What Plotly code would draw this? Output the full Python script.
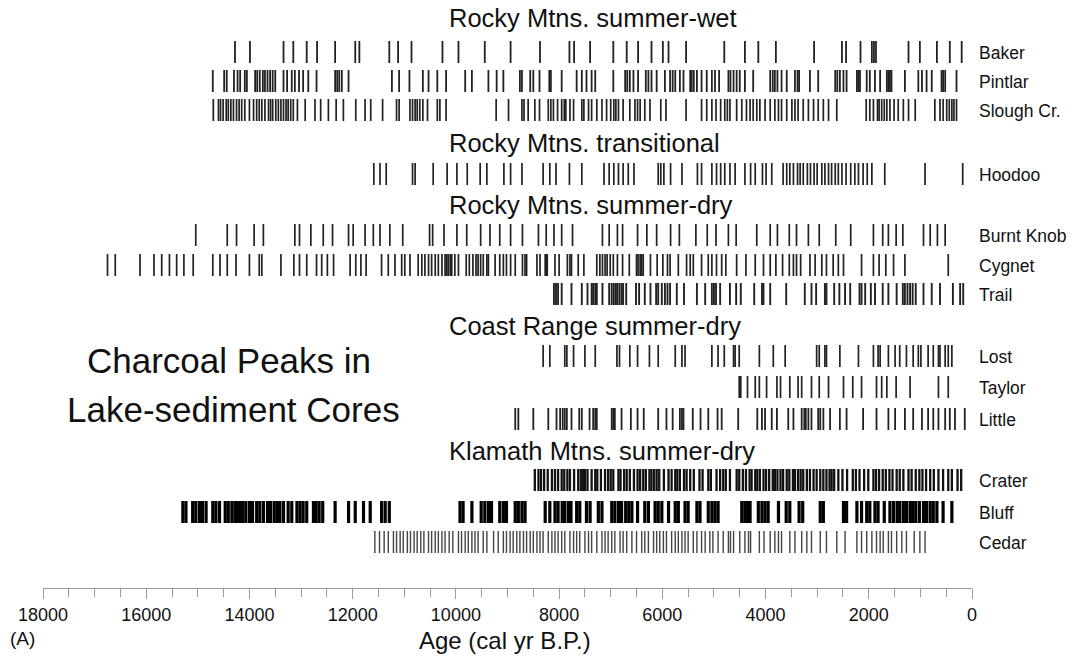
import plotly.graph_objects as go

# ---- charcoal peak ages (cal yr B.P.) for each lake ----
baker = [14280, 13990, 13340, 13150, 12890, 12690, 12340, 11950, 11870, 11290, 11120, 10860, 10260, 9950,
         9440, 8940, 8370, 7800, 7710, 7400, 6950, 6690, 6470, 6210, 5990, 5880, 5540, 4800, 4400, 4140,
         3800, 3060, 2520, 2440, 2160, 1940, 1900, 1860, 1230, 1010, 680, 430, 200]

pintlar = [14710, 14490, 14440, 14300, 14230, 14180, 14090, 14050, 13890, 13850, 13800, 13740, 13700, 13650,
           13600, 13550, 13500, 13340, 13270, 13180, 13120, 13040, 12960, 12860, 12700, 12340, 12300, 12260,
           12210, 12080, 11240, 11100, 10900, 10640, 10530, 10360, 10190, 9820, 9690, 9370, 9210, 9080, 8760,
           8720, 8560, 8500, 8380, 8190, 8160, 7950, 7660, 7560, 7470, 7370, 7300, 6950, 6720, 6680, 6630,
           6560, 6470, 6320, 6270, 6210, 6110, 5950, 5850, 5800, 5750, 5660, 5590, 5460, 5430, 5390, 5330,
           5240, 5140, 5040, 4980, 4900, 4720, 4680, 4620, 4560, 4500, 4400, 4240, 3910, 3860, 3820, 3770,
           3690, 3590, 3430, 3380, 3350, 3140, 2980, 2650, 2610, 2560, 2490, 2430, 2230, 2200, 2170, 2040,
           1980, 1880, 1780, 1650, 1620, 1590, 1560, 1300, 1040, 970, 880, 780, 590, 560, 520, 300]

slough = [14700, 14600, 14560, 14510, 14450, 14410, 14360, 14310, 14250, 14200, 14150, 14090, 14000, 13920,
          13860, 13810, 13760, 13700, 13630, 13590, 13550, 13490, 13440, 13390, 13340, 13290, 13250, 13200,
          13150, 13070, 12920, 12730, 12620, 12470, 12320, 12180, 11940, 11760, 11650, 11420, 11150, 11100,
          10890, 10840, 10790, 10750, 10700, 10640, 10550, 10360, 10310, 10190, 9220, 8980, 8720, 8680, 8600,
          8470, 8380, 8210, 8160, 8110, 8030, 7950, 7900, 7870, 7790, 7720, 7560, 7520, 7430, 7370, 7270,
          7170, 7080, 7000, 6940, 6900, 6850, 6760, 6630, 6530, 6480, 6430, 6340, 6240, 6030, 5930, 5540,
          5240, 5140, 5040, 4960, 4870, 4790, 4740, 4690, 4560, 4460, 4370, 4300, 4240, 4170, 4110, 4010,
          3910, 3820, 3750, 3690, 3590, 3490, 3430, 3370, 3270, 3170, 3070, 2980, 2880, 2780, 2620, 2050,
          1980, 1910, 1830, 1800, 1750, 1700, 1650, 1590, 1510, 1430, 1330, 1230, 1100, 720, 620, 560, 490,
          440, 390, 350, 300]

hoodoo = [11590, 11470, 11350, 10840, 10790, 10440, 10170, 9980, 9780, 9530, 9400, 9070, 8940, 8720, 8310,
          8180, 8060, 7800, 7560, 7130, 7030, 6940, 6850, 6760, 6660, 6550, 6080, 6030, 5970, 5840, 5620,
          5320, 5240, 5040, 4950, 4870, 4790, 4690, 4590, 4400, 4290, 4200, 4060, 3990, 3880, 3660, 3590,
          3530, 3460, 3380, 3330, 3270, 3190, 3130, 3060, 3000, 2910, 2850, 2780, 2720, 2650, 2590, 2520,
          2440, 2350, 2270, 2200, 2110, 2030, 1940, 1690, 910, 180]

burnt_knob = [15040, 14430, 14250, 13910, 13730, 13120, 13030, 12810, 12570, 12390, 12080, 11990, 11760, 11600,
              11470, 11280, 11030, 10510, 10450, 10230, 9980, 9790, 9520, 9340, 9150, 8940, 8710, 8400, 8250,
              8100, 7950, 7740, 7160, 7030, 6870, 6770, 6480, 6300, 6110, 5840, 5670, 5350, 5130, 4960, 4720,
              4570, 4170, 3910, 3770, 3540, 3400, 3170, 2960, 2640, 2350, 1910, 1730, 1620, 1470, 1340, 940,
              810, 670, 520]

cygnet = [16750, 16600, 16120, 15850, 15700, 15550, 15410, 15270, 15090, 14710, 14570, 14430, 14260, 14000,
          13810, 13760, 13390, 13140, 13030, 12890, 12700, 12600, 12490, 12370, 12050, 11940, 11840, 11740,
          11440, 11310, 11180, 11050, 10990, 10890, 10730, 10660, 10600, 10530, 10470, 10400, 10340, 10270,
          10210, 10180, 10150, 10110, 10080, 10020, 9950, 9800, 9740, 9670, 9610, 9570, 9520, 9470, 9400,
          9370, 9240, 9150, 9080, 9020, 8940, 8850, 8710, 8660, 8630, 8430, 8370, 8270, 8250, 8230, 8080,
          8000, 7840, 7790, 7760, 7630, 7520, 7270, 7210, 7160, 7110, 7070, 7010, 6950, 6870, 6770, 6640,
          6500, 6470, 6430, 6400, 6370, 6230, 6100, 5990, 5900, 5850, 5690, 5530, 5460, 5400, 5240, 5110,
          5040, 4950, 4850, 4770, 4560, 4380, 4200, 4040, 3910, 3800, 3670, 3540, 3460, 3400, 3320, 3140,
          3040, 2910, 2820, 2690, 2590, 2490, 2140, 1910, 1800, 1670, 1520, 1300, 460]

trail = [8100, 8060, 8020, 7950, 7760, 7560, 7450, 7370, 7340, 7300, 7270, 7160, 7030, 6980, 6940, 6900,
         6870, 6830, 6790, 6760, 6700, 6510, 6450, 6340, 6230, 6120, 6080, 6010, 5950, 5900, 5850, 5720,
         5580, 5330, 5170, 5040, 5000, 4960, 4880, 4690, 4570, 4480, 4220, 4070, 4040, 3910, 3600, 3240,
         3110, 3020, 2850, 2820, 2670, 2570, 2460, 2360, 2180, 2140, 2070, 1960, 1880, 1730, 1620, 1460,
         1340, 1300, 1250, 1200, 1150, 1090, 940, 780, 620, 370, 230, 170]

lost = [8310, 8180, 7890, 7850, 7720, 7500, 7300, 6880, 6830, 6630, 6480, 6250, 6080, 5750, 5620, 5560,
        5040, 4920, 4800, 4620, 4590, 4510, 4120, 3850, 3620, 3010, 2960, 2850, 2820, 2560, 2200, 1910,
        1820, 1780, 1620, 1490, 1400, 1270, 1140, 1040, 990, 850, 750, 650, 620, 520, 460, 390]

taylor = [4510, 4480, 4350, 4200, 4120, 3980, 3780, 3710, 3530, 3370, 3300, 3110, 2960, 2780, 2490, 2310,
          2140, 1850, 1750, 1650, 1470, 1200, 650, 460]

little = [8850, 8790, 8500, 8210, 8050, 7980, 7930, 7890, 7850, 7760, 7610, 7560, 7410, 7340, 7300, 7270,
          6980, 6950, 6920, 6790, 6610, 6480, 6360, 6080, 5920, 5800, 5660, 5620, 5590, 5410, 5260, 5110,
          4930, 4850, 4530, 4160, 4070, 4010, 3880, 3780, 3560, 3460, 3300, 3250, 3220, 3170, 3110, 2980,
          2940, 2880, 2750, 2560, 2430, 2110, 1850, 1620, 1490, 1300, 1140, 970, 850, 750, 650, 520, 430,
          330, 140]

crater = [8470, 8400, 8350, 8290, 8220, 8140, 8080, 8020, 7950, 7900, 7840, 7790, 7710, 7630, 7580, 7540,
          7500, 7450, 7370, 7300, 7260, 7190, 7110, 7050, 7000, 6950, 6850, 6810, 6740, 6690, 6630, 6550,
          6480, 6430, 6370, 6320, 6250, 6210, 6160, 6110, 6060, 5970, 5880, 5820, 5750, 5710, 5660, 5580,
          5530, 5460, 5390, 5280, 5220, 5110, 5060, 4950, 4880, 4820, 4770, 4690, 4560, 4510, 4440, 4380,
          4310, 4270, 4200, 4160, 4110, 4040, 3990, 3930, 3860, 3820, 3770, 3710, 3660, 3590, 3540, 3470,
          3430, 3370, 3320, 3270, 3200, 3140, 3070, 3010, 2940, 2880, 2820, 2760, 2720, 2670, 2590, 2510,
          2420, 2310, 2250, 2180, 2090, 2010, 1910, 1860, 1800, 1730, 1670, 1600, 1540, 1460, 1400, 1330,
          1230, 1170, 1090, 1020, 960, 890, 810, 740, 650, 560, 460, 390, 280, 210]

bluff = [15290, 15230, 15100, 15040, 14970, 14910, 14840, 14710, 14650, 14580, 14470, 14410, 14340, 14280,
         14230, 14180, 14130, 14070, 14000, 13940, 13860, 13800, 13730, 13650, 13590, 13520, 13460, 13410,
         13340, 13250, 13180, 13080, 13020, 12960, 12890, 12760, 12710, 12650, 12580, 12340, 12080, 11950,
         11790, 11660, 11440, 11370, 11290, 9920, 9860, 9690, 9510, 9440, 9370, 9310, 9150, 9080, 9020,
         8850, 8790, 8720, 8660, 8270, 8180, 8080, 8020, 7940, 7890, 7820, 7770, 7660, 7600, 7470, 7400,
         7240, 7170, 6980, 6920, 6850, 6790, 6710, 6650, 6590, 6480, 6340, 6270, 6140, 6080, 6010, 5880,
         5750, 5690, 5560, 5500, 5330, 5270, 5110, 5040, 4980, 4920, 4460, 4400, 4350, 4300, 4140, 4070,
         4010, 3950, 3750, 3600, 3530, 3350, 3280, 2940, 2880, 2490, 2430, 2230, 2140, 2040, 1980, 1880,
         1820, 1700, 1590, 1520, 1450, 1400, 1330, 1270, 1200, 1150, 1090, 1020, 940, 880, 810, 750, 680,
         560, 390]

cedar = [11570, 11480, 11390, 11310, 11210, 11150, 11080, 11020, 10940, 10880, 10810, 10750, 10680, 10620,
         10530, 10470, 10400, 10340, 10270, 10210, 10130, 10060, 9950, 9890, 9820, 9760, 9690, 9630, 9570,
         9470, 9400, 9270, 9180, 9080, 9020, 8950, 8890, 8820, 8760, 8690, 8630, 8560, 8500, 8430, 8370,
         8310, 8210, 8140, 8080, 8020, 7950, 7890, 7790, 7720, 7660, 7600, 7500, 7430, 7370, 7270, 7170,
         7110, 7050, 6980, 6920, 6820, 6760, 6690, 6590, 6500, 6400, 6340, 6270, 6170, 6110, 6050, 5980,
         5920, 5820, 5750, 5690, 5620, 5560, 5500, 5400, 5330, 5240, 5170, 5080, 5020, 4920, 4820, 4720,
         4680, 4620, 4500, 4400, 4330, 4290, 4120, 4030, 3910, 3820, 3750, 3690, 3530, 3430, 3300, 3200,
         3110, 2940, 2820, 2620, 2460, 2230, 2140, 2040, 1940, 1850, 1780, 1720, 1620, 1560, 1460, 1360,
         1270, 1120, 1010, 910]

site_names = ["Baker", "Pintlar", "Slough Cr.", "Hoodoo", "Burnt Knob", "Cygnet", "Trail",
              "Lost", "Taylor", "Little", "Crater", "Bluff", "Cedar"]
site_ages = [baker, pintlar, slough, hoodoo, burnt_knob, cygnet, trail,
             lost, taylor, little, crater, bluff, cedar]

group_titles = ["Rocky Mtns. summer-wet", "Rocky Mtns. transitional", "Rocky Mtns. summer-dry",
                "Coast Range summer-dry", "Klamath Mtns. summer-dry"]

age_ticks = list(range(0, 18001, 2000))

# ---- layout (canvas pixels: the y axis runs 0 at top to H at bottom) ----
W, H = 1089, 658
PLOT_L, PLOT_R = 43, 972          # pixel span of the age axis
AXIS_Y = 588                      # pixel row of the age axis line
row_y = [52, 81, 110, 174, 235, 265, 294, 356, 387, 419, 480, 512, 542]
row_width = [1.8, 1.8, 1.7, 1.7, 1.7, 1.7, 1.9, 1.7, 1.7, 1.8, 2.3, 3.2, 1.4]
row_color = ["#222222"] * 10 + ["#111111", "#000000", "#444444"]
HALF = 11                         # half height of a peak mark
group_y = [18, 143, 205, 326, 451]
GROUP_X = 447

FONT = "Liberation Sans, Arial, Helvetica, sans-serif"


def px_to_paper(px):
    return (px - PLOT_L) / (PLOT_R - PLOT_L)


fig = go.Figure()

for name, ages, yc, lw, col in zip(site_names, site_ages, row_y, row_width, row_color):
    xs, ys = [], []
    for a in ages:
        xs += [a, a, None]
        ys += [yc - HALF, yc + HALF, None]
    fig.add_trace(go.Scatter(x=xs, y=ys, mode="lines", name=name,
                             line=dict(color=col, width=lw), hoverinfo="skip",
                             showlegend=False))

annotations = []
for name, yc in zip(site_names, row_y):
    annotations.append(dict(text=name, xref="paper", yref="y", x=px_to_paper(977), y=yc + 1,
                            xanchor="left", yanchor="middle", showarrow=False,
                            font=dict(family=FONT, size=17.5, color="#111")))
for title, yc in zip(group_titles, group_y):
    annotations.append(dict(text=title, xref="paper", yref="y", x=px_to_paper(GROUP_X), y=yc,
                            xanchor="left", yanchor="middle", showarrow=False,
                            font=dict(family=FONT, size=25.5, color="#111")))

annotations.append(dict(text="Charcoal Peaks in", xref="paper", yref="y", x=px_to_paper(229), y=360,
                        xanchor="center", yanchor="middle", showarrow=False,
                        font=dict(family=FONT, size=35, color="#111")))
annotations.append(dict(text="Lake-sediment Cores", xref="paper", yref="y", x=px_to_paper(233), y=409,
                        xanchor="center", yanchor="middle", showarrow=False,
                        font=dict(family=FONT, size=35, color="#111")))
annotations.append(dict(text="Age (cal yr B.P.)", xref="paper", yref="y", x=px_to_paper(505), y=640,
                        xanchor="center", yanchor="middle", showarrow=False,
                        font=dict(family=FONT, size=24, color="#111")))
annotations.append(dict(text="(A)", xref="paper", yref="y", x=px_to_paper(8), y=638,
                        xanchor="left", yanchor="middle", showarrow=False,
                        font=dict(family=FONT, size=19, color="#111")))

fig.update_layout(
    width=W, height=H,
    margin=dict(l=PLOT_L, r=W - PLOT_R, t=0, b=0),
    paper_bgcolor="white", plot_bgcolor="white",
    showlegend=False,
    annotations=annotations,
    xaxis=dict(
        range=[18000, 0], tickvals=age_ticks, ticktext=[str(v) for v in age_ticks],
        showgrid=False, zeroline=False, showline=True, linecolor="#9a9a9a", linewidth=1,
        ticks="outside", ticklen=10, tickcolor="#9a9a9a", tickwidth=1,
        minor=dict(tick0=0, dtick=500, ticks="outside", ticklen=8, tickcolor="#9a9a9a", showgrid=False),
        tickfont=dict(family=FONT, size=18, color="#111"),
        anchor="free", position=(H - AXIS_Y) / H,
        fixedrange=True,
    ),
    yaxis=dict(range=[H, 0], visible=False, showgrid=False, zeroline=False, fixedrange=True),
)

fig.write_html("out.html")
